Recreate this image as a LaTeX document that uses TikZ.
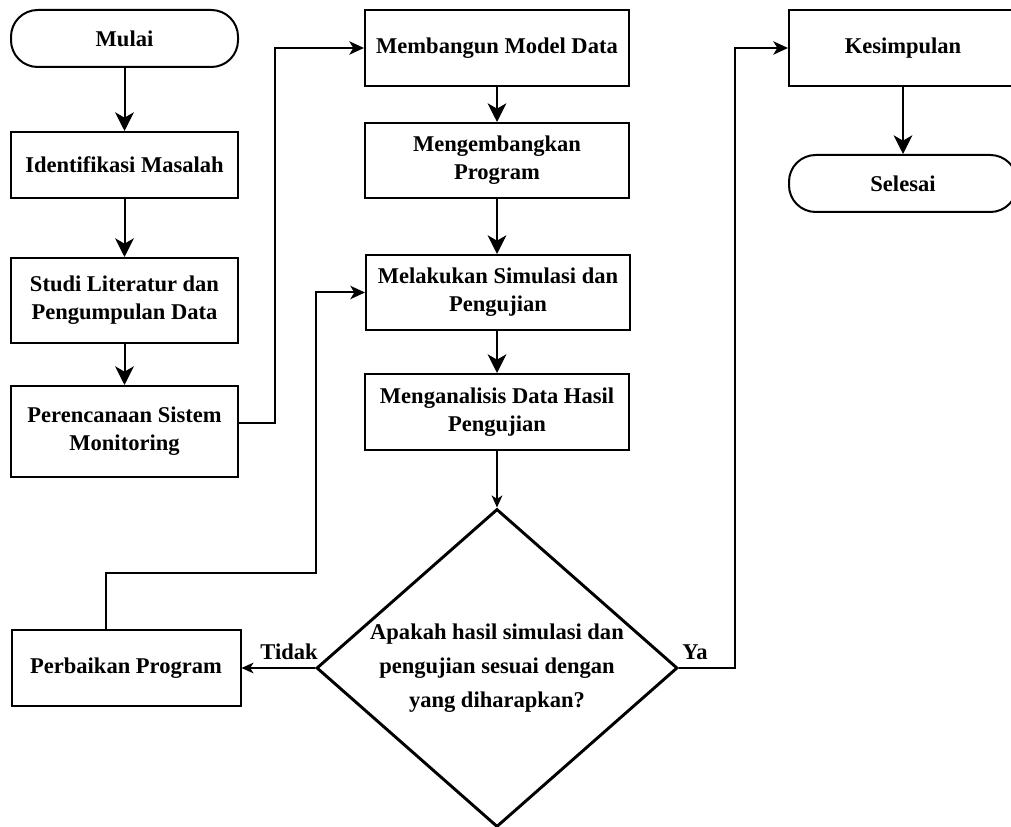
\documentclass[tikz,border=0pt]{standalone}
\usepackage{fontspec}
\setmainfont{Liberation Serif}
\usetikzlibrary{shapes.geometric,arrows.meta}
\begin{document}
\begin{tikzpicture}[x=0.75pt,y=-0.75pt,
  every node/.style={font=\fontsize{16.9pt}{21pt}\selectfont\bfseries},
  box/.style={draw,line width=1.5pt,rectangle,align=center,inner sep=0pt},
  term/.style={draw,line width=1.5pt,rectangle,rounded corners=20pt,align=center,inner sep=0pt},
  decision/.style={draw,line width=2.2pt,diamond,inner sep=0pt,minimum width=270.75pt,minimum height=238.5pt},
  conn/.style={line width=1.5pt},
  bigarr/.style={conn,-{Stealth[length=14pt,width=14pt,inset=4pt]}},
  midarr/.style={conn,-{Stealth[length=11pt,width=10pt,inset=3pt]}},
  smallarr/.style={conn,-{Stealth[length=9pt,width=8pt,inset=2.5pt]}},
  lbl/.style={inner sep=0pt}]
\useasboundingbox (0,0) rectangle (1011,827);
% left column
\node[term,minimum width=170.25pt,minimum height=42.75pt] (mulai) at (124.5,38.5) {Mulai};
\node[box,minimum width=170.25pt,minimum height=49.5pt] (ident) at (124.5,165) {Identifikasi Masalah};
\node[box,minimum width=170.25pt,minimum height=63.75pt] (studi) at (124.5,300.5) {Studi Literatur dan\\Pengumpulan Data};
\node[box,minimum width=170.25pt,minimum height=68.25pt] (pere) at (124.5,431.5) {Perencanaan Sistem\\Monitoring};
% middle column
\node[box,minimum width=198pt,minimum height=57pt] (memb) at (497,48) {Membangun Model Data};
\node[box,minimum width=198pt,minimum height=56.25pt] (meng) at (497,160.5) {Mengembangkan\\Program};
\node[box,minimum width=198pt,minimum height=56.25pt] (mel) at (498,292.5) {Melakukan Simulasi dan\\Pengujian};
\node[box,minimum width=198pt,minimum height=57pt] (anal) at (497,412) {Menganalisis Data Hasil\\Pengujian};
% decision
\node[decision] (dec) at (497,668) {};
\node[align=center,font=\fontsize{16.9pt}{25.5pt}\selectfont\bfseries,inner sep=0pt] (dectext) at (dec.center) {Apakah hasil simulasi dan\\pengujian sesuai dengan\\yang diharapkan?};
\node[box,minimum width=171.75pt,minimum height=57pt] (perb) at (126,668) {Perbaikan Program};
% right column
\node[box,minimum width=171pt,minimum height=57pt] (kes) at (903,48) {Kesimpulan};
\node[term,minimum width=171pt,minimum height=42.75pt] (sel) at (903,183.5) {Selesai};
% coordinates
\coordinate (c1) at (275,48);
\coordinate (c2) at (316,573);
\coordinate (c3) at (735,48);
% connectors
\draw[bigarr] (mulai) -- (ident);
\draw[bigarr] (ident) -- (studi);
\draw[bigarr] (studi) -- (pere);
\draw[midarr] ([yshift=6.4pt]pere.east) -| (c1) -- (memb.west);
\draw[bigarr] (memb) -- (meng);
\draw[bigarr] (meng.south) -- (mel.north -| meng.south);
\draw[bigarr] (mel.south -| anal.north) -- (anal.north);
\draw[smallarr] (anal.south) -- (dec.north);
\draw[smallarr] (dec.west) -- (perb.east);
\draw[midarr] ([xshift=-15pt]perb.north) |- (c2) |- (mel.west);
\draw[midarr] (dec.east) -| (c3) -- (kes.west);
\draw[bigarr] (kes) -- (sel);
% labels
\node[lbl] (tidak) at (289,652) {Tidak};
\node[lbl] (ya) at (695,652) {Ya};
\end{tikzpicture}
\end{document}
